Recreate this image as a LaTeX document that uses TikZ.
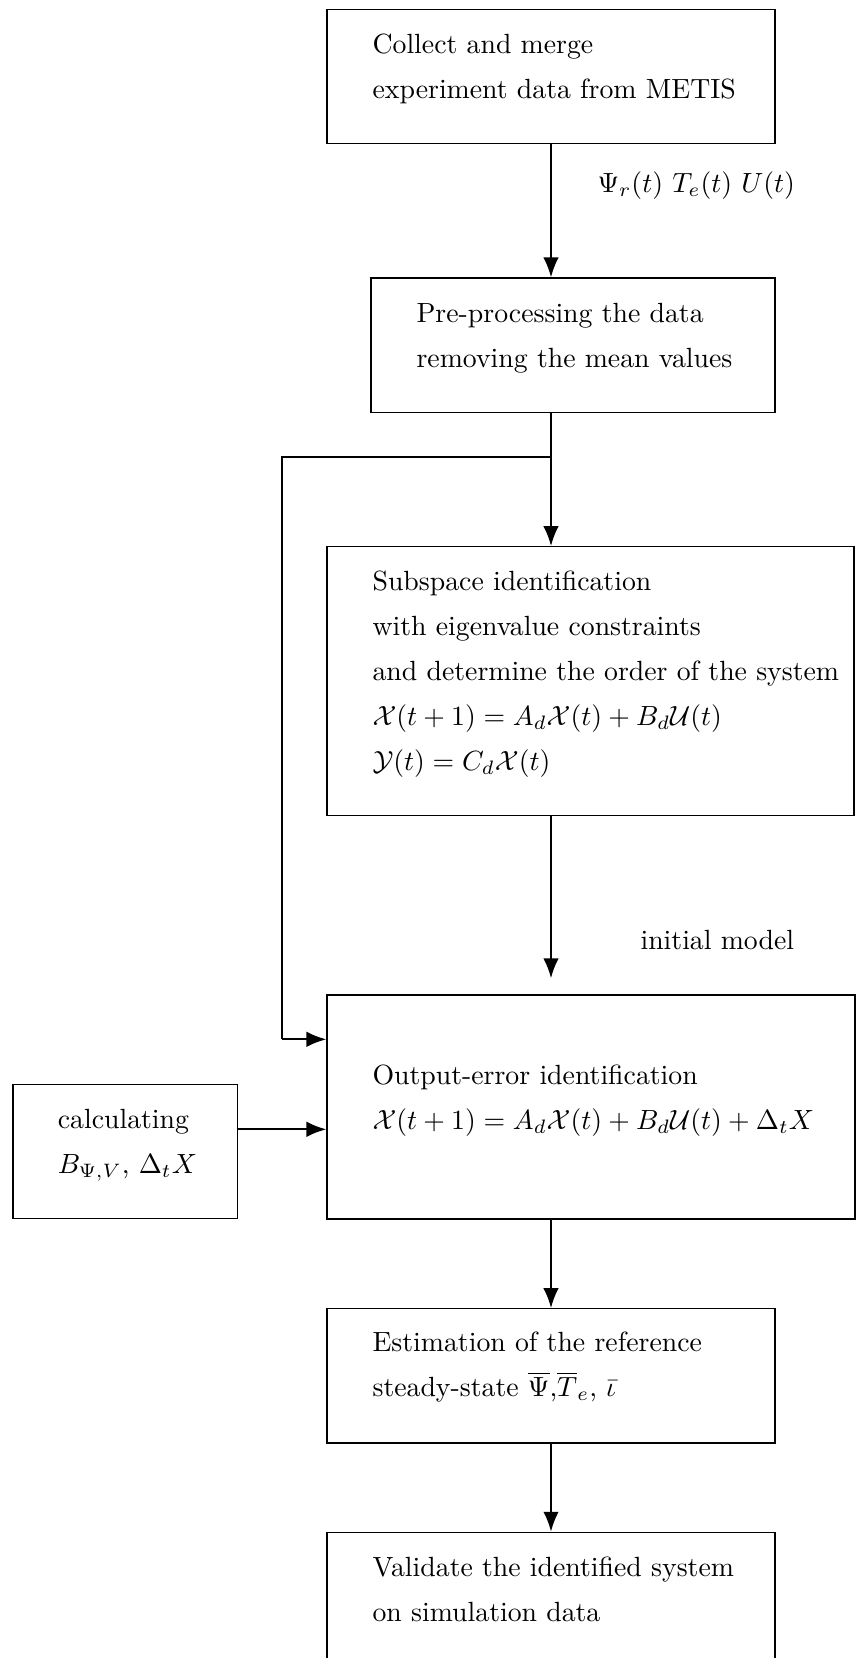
\documentclass[tikz,border=0pt]{standalone}
\usetikzlibrary{arrows.meta,fit}
\begin{document}
\begin{tikzpicture}[x=0.36pt,y=-0.36pt,
  box/.style={draw,line width=0.4pt,inner sep=0pt},
  txt/.style={anchor=base west,align=left,inner sep=0pt,font=\linespread{1.35}\selectfont},
  flow/.style={line width=0.8pt,-{Latex[length=7.2pt,width=5.6pt]}},
  thinline/.style={line width=0.4pt}]
\clip (0,0) rectangle (856,1658);
% boxes
\node[box,fit={(327,9.3) (775,143.3)}] (b1) {};
\node[box,fit={(371,278) (775,412.3)}] (b2) {};
\node[box,fit={(327,546.7) (854,815.5)}] (b3) {};
\node[box,fit={(327,995) (855,1219)}] (b5) {};
\node[box,fit={(13,1084.3) (237.4,1218.7)}] (b4) {};
\node[box,fit={(327,1308.7) (775,1443)}] (b6) {};
\node[box,fit={(327,1532.3) (775,1700)}] (b7) {};
% texts (anchored at the baseline of the last line)
\node[txt] (t1) at (372,99) {Collect and merge\\experiment data from METIS};
\node[txt] (t2) at (416,367) {Pre-processing the data\\removing the mean values};
\node[txt] (t3) at (372,770) {Subspace identification\\with eigenvalue constraints\\and determine the order of the system\\$\mathcal{X}(t+1)=A_d\mathcal{X}(t)+B_d\mathcal{U}(t)$\\$\mathcal{Y}(t)=C_d\mathcal{X}(t)$};
\node[txt] (t5) at (372,1129) {Output-error identification\\$\mathcal{X}(t+1)=A_d\mathcal{X}(t)+B_d\mathcal{U}(t)+\Delta_t X$};
\node[txt] (t4) at (57.3,1173) {calculating\\$B_{\Psi,V}$, $\Delta_t X$};
\node[txt] (t6) at (372,1396.7) {Estimation of the reference\\steady-state $\overline{\Psi}$,$\overline{T}_e$, $\bar{\iota}$};
\node[txt] (t7) at (372,1621.7) {Validate the identified system\\on simulation data};
% labels
\node[txt] (l1) at (597,192) {$\Psi_r(t)$ $T_e(t)$ $U(t)$};
\node[txt] (l2) at (640,949) {initial model};
% coordinates
\coordinate (br) at (551,457);
\coordinate (bl) at (282,1039.3);
\coordinate (im) at (551,978.3);
\coordinate (ya) at (0,1129.3);
% connectors
\draw[flow] (b1.south) -- (b1.south |- b2.north);
\draw[flow] (b2.south -| b1.south) -- (b3.north -| b1.south);
\draw[flow] (b3.south -| b1.south) -- (im);
\draw[thinline] (br) -| (bl);
\draw[flow] (bl) -- (b5.west |- bl);
\draw[flow] (b4.east |- ya) -- (b5.west |- ya);
\draw[flow] (b5.south -| b1.south) -- (b6.north);
\draw[flow] (b6.south) -- (b7.north);
\end{tikzpicture}
\end{document}
